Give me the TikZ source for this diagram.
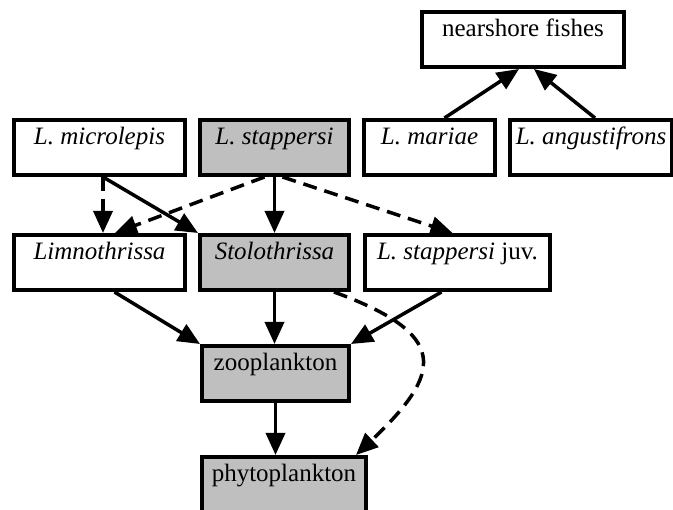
\documentclass[tikz,border=0pt]{standalone}
\usepackage{fontspec}
\setmainfont{Liberation Serif}
\usetikzlibrary{arrows.meta}
\begin{document}
\begin{tikzpicture}[x=1pt,y=-1pt,
  box/.style={draw, line width=4pt, inner sep=0pt, text height=25pt, text depth=30pt, anchor=north west, font=\fontsize{25pt}{30pt}\selectfont},
  shaded/.style={box, fill=black!25},
  link/.style={line width=3.5pt, -{Triangle[length=22pt,width=19pt]}},
  dlink/.style={link, dash pattern=on 14pt off 8pt},
]
\useasboundingbox (0,0) rectangle (673,510);
\node[box, minimum width=202pt] (nf) at (420,10) {nearshore fishes};
\node[box, minimum width=171pt] (mic) at (12,118) {\textit{L. microlepis}};
\node[shaded, minimum width=149pt] (stp) at (198,118) {\textit{L. stappersi}};
\node[box, minimum width=131pt] (mar) at (362,118) {\textit{L. mariae}};
\node[box, minimum width=162pt] (ang) at (508,118) {\textit{L. angustifrons}};
\node[box, minimum width=171pt] (lim) at (12,233) {\textit{Limnothrissa}};
\node[shaded, minimum width=149pt] (sto) at (198,233) {\textit{Stolothrissa}};
\node[box, minimum width=185pt] (juv) at (363,233) {\textit{L. stappersi} juv.};
\node[shaded, minimum width=147pt] (zoo) at (200,344) {zooplankton};
\node[shaded, minimum width=164pt] (phy) at (200,455) {phytoplankton};

\draw[dlink] ([xshift=3.5pt]mic.south) -- ([xshift=3.5pt]lim.north);
\draw[link] ([xshift=3.5pt]mic.south) -- (sto.north west);
\draw[dlink] ([xshift=-10pt]stp.south) -- ([xshift=15.5pt]lim.north);
\draw[link] (stp.south) -- (sto.north);
\draw[dlink] ([xshift=8pt]stp.south) -- ([xshift=-5pt]juv.north);
\draw[link] ([xshift=15pt]lim.south) -- (zoo.north west);
\draw[link] (sto.south) -- (sto.south |- zoo.north);
\draw[link] ([xshift=-16pt]juv.south) -- (zoo.north east);
\draw[link] (zoo.south) -- (zoo.south |- phy.north);
\draw[dlink] ([xshift=-17pt]sto.south east) .. controls +(115,42) and +(88,-83) .. ([xshift=-12pt]phy.north east);
\draw[link] ([xshift=15pt]mar.north) -- ([xshift=-4pt]nf.south);
\draw[link] ([xshift=4pt]ang.north) -- ([xshift=11pt]nf.south);
\end{tikzpicture}
\end{document}
